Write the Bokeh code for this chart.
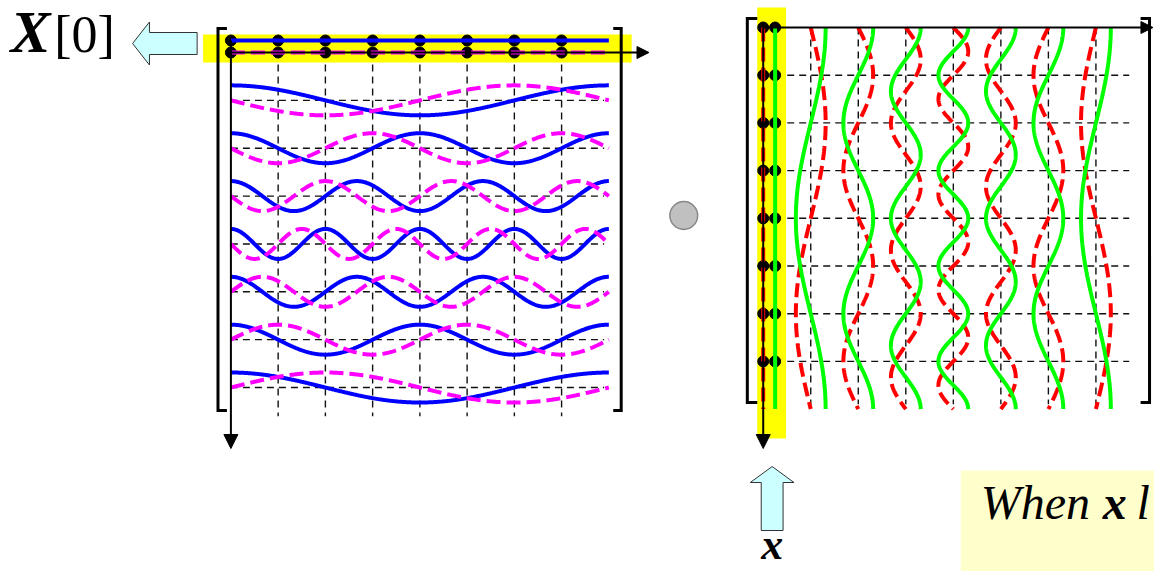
import numpy as np
from bokeh.plotting import figure
from bokeh.models import Range1d, Arrow, NormalHead
from bokeh.core.properties import value
from bokeh.embed import file_html
from bokeh.resources import INLINE

# ---------------- data ----------------
N = 8                                   # DFT length
k_index = [0, 1, 2, 3, 4, 5, 6, 7]      # frequency index (rows / columns)
n_index = [0, 1, 2, 3, 4, 5, 6, 7]      # sample index
shown_freq = [0, 1, 2, 3, 4, 3, 2, 1]   # drawn (aliased) frequency of each basis curve
sin_sign = [1, 1, 1, 1, 1, -1, -1, -1]  # sign of the sine part after aliasing
label_X = "X"
label_idx = "[0]"
label_x = "x"
note_parts = ["When", "x", "l"]

# ---------------- layout / style ----------------
W, H = 1154, 571
XSPAN = 1162
SERIF = value("Liberation Serif")
AMP, AMP0 = 15, 12
LX0, LY0, LDX, LDY = 232, 52, 47.57, 47.86
RX0, RY0, RDX, RDY = 768, 27, 47.86, 47.7
GRID = dict(line_color="#111111", line_width=1.4, line_dash="7 5")
BASE_SHIFT = 0.37   # svg text baseline correction, in em

p = figure(width=W, height=H, x_range=Range1d(0, XSPAN), y_range=Range1d(H, 0),
           output_backend="svg", toolbar_location=None, min_border=0,
           x_axis_type=None, y_axis_type=None)
p.grid.visible = False
p.outline_line_color = None
p.background_fill_color = "white"
p.border_fill_color = "white"

t = np.linspace(0, N, 500)

# ---------- left matrix: rows ----------
vx = [[LX0 + n * LDX] * 2 for n in n_index[1:]]
vy = [[LY0, LY0 + 7.6 * LDY] for n in n_index[1:]]
p.multi_line(vx, vy, **GRID)
hx = [[LX0, LX0 + 7.9 * LDX] for k in k_index[1:]]
hy = [[LY0 + k * LDY] * 2 for k in k_index[1:]]
p.multi_line(hx, hy, **GRID)

p.quad(left=LX0 - 28, right=LX0 + 8 * LDX + 23, top=LY0 - 18, bottom=LY0 + 10,
       fill_color="#FFFF00", line_color=None)

p.add_layout(Arrow(end=NormalHead(size=12, fill_color="black", line_color="black"),
                   x_start=LX0, y_start=LY0, x_end=LX0 + 8.85 * LDX, y_end=LY0,
                   line_width=2, line_color="black"))
p.add_layout(Arrow(end=NormalHead(size=14, fill_color="black", line_color="black"),
                   x_start=LX0, y_start=LY0 - AMP0, x_end=LX0, y_end=448,
                   line_width=2, line_color="black"))

dots_x = [LX0 + n * LDX for n in n_index] * 2
dots_y = [LY0 - AMP0] * len(n_index) + [LY0] * len(n_index)
p.scatter(dots_x, dots_y, size=11, color="black")

for k, f, s in zip(k_index, shown_freq, sin_sign):
    a = AMP0 if k == 0 else AMP
    base = LY0 + k * LDY
    xs = LX0 + t * LDX
    p.line(xs, base - a * np.cos(2 * np.pi * f * t / N), line_color="#0000FF", line_width=4)
    p.line(xs, base + a * s * np.sin(2 * np.pi * f * t / N), line_color="#FF00FF",
           line_width=4, line_dash="14 6")

# ---------- right matrix: columns ----------
vx = [[RX0 + k * RDX] * 2 for k in k_index[1:]]
vy = [[RY0, RY0 + 7.9 * RDY] for k in k_index[1:]]
p.multi_line(vx, vy, **GRID)
hx = [[RX0, RX0 + 7.7 * RDX] for n in n_index[1:]]
hy = [[RY0 + n * RDY] * 2 for n in n_index[1:]]
p.multi_line(hx, hy, **GRID)

p.quad(left=RX0 - 6, right=RX0 + 23, top=RY0 - 20, bottom=438,
       fill_color="#FFFF00", line_color=None)

p.add_layout(Arrow(end=NormalHead(size=12, fill_color="black", line_color="black"),
                   x_start=RX0, y_start=RY0, x_end=RX0 + 8.2 * RDX, y_end=RY0,
                   line_width=2, line_color="black"))
p.add_layout(Arrow(end=NormalHead(size=14, fill_color="black", line_color="black"),
                   x_start=RX0, y_start=RY0, x_end=RX0, y_end=448,
                   line_width=2, line_color="black"))

dots_x = [RX0] * len(n_index) + [RX0 + AMP0] * len(n_index)
dots_y = [RY0 + n * RDY for n in n_index] * 2
p.scatter(dots_x, dots_y, size=11, color="black")

for k, f, s in zip(k_index, shown_freq, sin_sign):
    a = AMP0 if k == 0 else AMP
    base = RX0 + k * RDX
    ys = RY0 + t * RDY
    p.line(base + a * s * np.sin(2 * np.pi * f * t / N), ys, line_color="#FF0000",
           line_width=4, line_dash="14 6")
    p.line(base + a * np.cos(2 * np.pi * f * t / N), ys, line_color="#00FF00", line_width=4)

# ---------- brackets ----------
def bracket(x, top, bottom, serif):
    p.line([x + serif, x, x, x + serif], [top, top, bottom, bottom],
           line_color="black", line_width=3, line_join="miter")

bracket(219, 28, 410, 9)
bracket(625, 28, 410, -8)
bracket(752, 18, 402, 10)
bracket(1157, 18, 402, -9)

# ---------- dot operator ----------
p.circle(x=[688], y=[215], radius=14, fill_color="#C0C0C0", line_color="#888888", line_width=1.5)

# ---------- cyan arrows ----------
def left_arrow(tipx, tipy, head_len, head_half, shaft_half, tail):
    xs = [tipx, tipx + head_len, tipx + head_len, tail, tail, tipx + head_len, tipx + head_len]
    ys = [tipy, tipy - head_half, tipy - shaft_half, tipy - shaft_half,
          tipy + shaft_half, tipy + shaft_half, tipy + head_half]
    p.patch(xs, ys, fill_color="#CCFFFF", line_color="#333333", line_width=1)

def up_arrow(tipx, tipy, head_len, head_half, shaft_half, tail):
    ys = [tipy, tipy + head_len, tipy + head_len, tail, tail, tipy + head_len, tipy + head_len]
    xs = [tipx, tipx + head_half, tipx + shaft_half, tipx + shaft_half,
          tipx - shaft_half, tipx - shaft_half, tipx - head_half]
    p.patch(xs, ys, fill_color="#CCFFFF", line_color="#333333", line_width=1)

left_arrow(133, 43, 17, 21.5, 11, 198)
up_arrow(777, 466, 16, 22, 11, 530)

# ---------- note box ----------
p.quad(left=967, right=XSPAN, top=470, bottom=H, fill_color="#FFFFCC", line_color=None)

# ---------- texts ----------
def label(x, y, txt, size, style, align="left"):
    p.text(x=[x], y=[y - BASE_SHIFT * size], text=[txt], text_font=SERIF,
           text_font_style=style, text_font_size=f"{size}px", text_baseline="alphabetic",
           text_align=align, text_color="black")

label(10, 54, label_X, 60, "bold italic")
label(54, 53, label_idx, 52, "normal")
label(777, 560, label_x, 44, "bold italic", "center")

label(987, 520, note_parts[0], 48, "italic")
label(1110, 520, note_parts[1], 48, "bold italic")
label(1144, 520, note_parts[2], 48, "italic")

open("out.html", "w").write(file_html(p, INLINE))
